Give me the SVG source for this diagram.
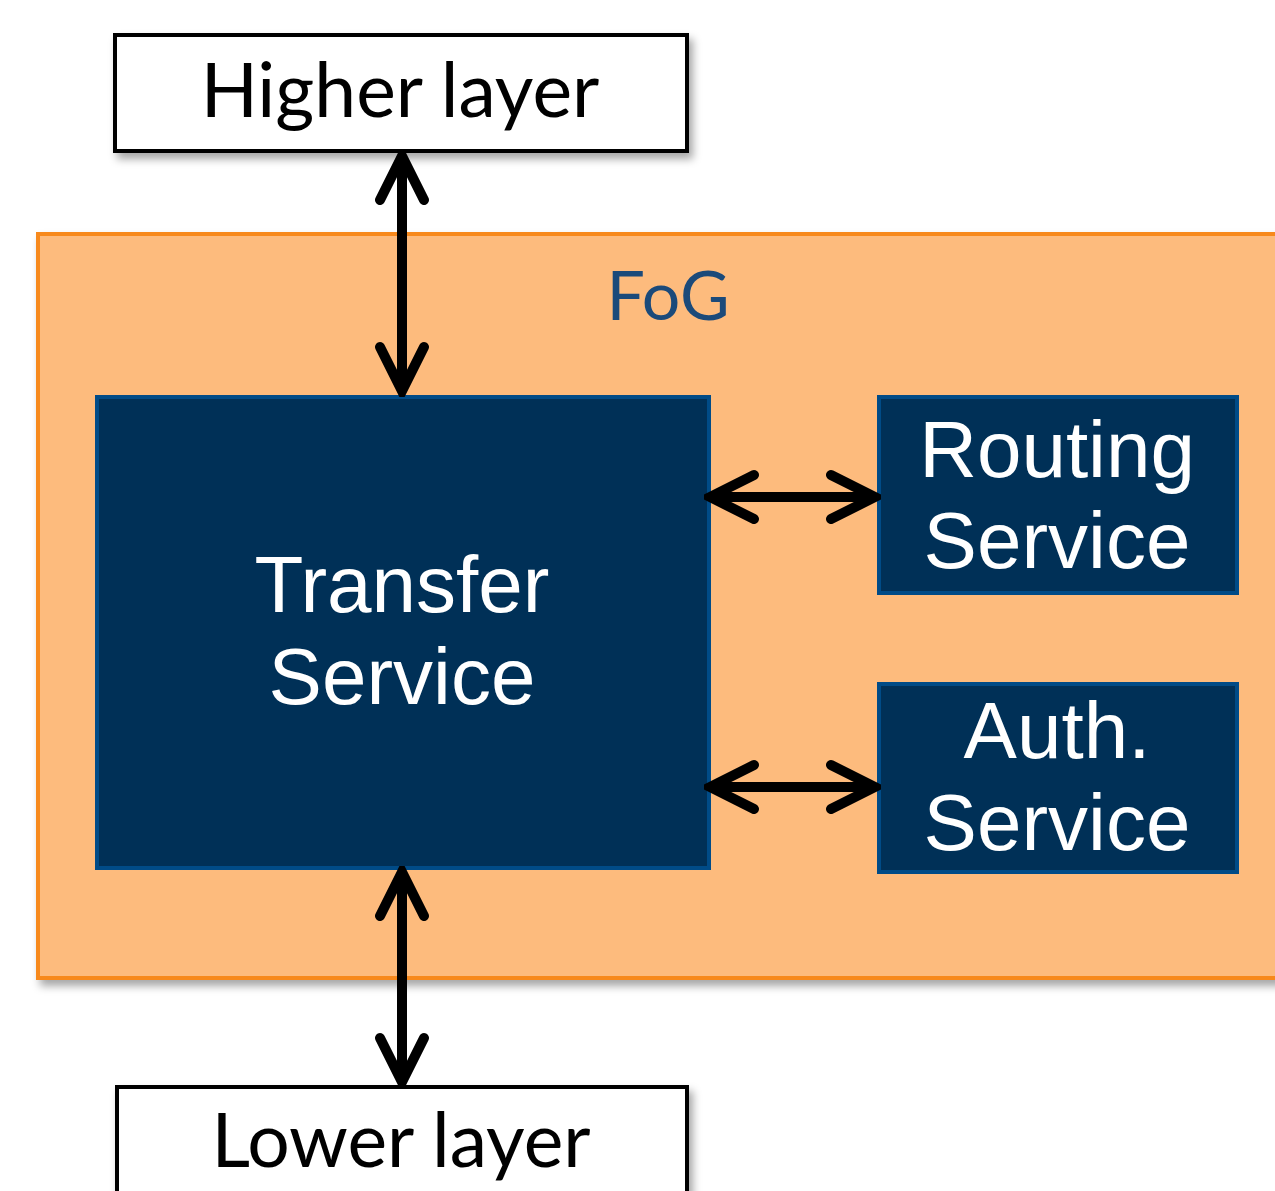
<svg xmlns="http://www.w3.org/2000/svg" width="1275" height="1191" viewBox="0 0 1275 1191">
<defs>
<filter id="sh" x="-10%" y="-10%" width="130%" height="140%">
<feDropShadow dx="4" dy="6" stdDeviation="4" flood-color="#000" flood-opacity="0.35"/>
</filter>
<marker id="ah" viewBox="0 0 60 60" refX="54" refY="30" markerWidth="60" markerHeight="60" markerUnits="userSpaceOnUse" orient="auto-start-reverse">
<path d="M10 8 L54 30 L10 52" fill="none" stroke="#000" stroke-width="10" stroke-linecap="round" stroke-linejoin="miter"/>
</marker>
<style>
.layer{fill:#fff;stroke:#000;stroke-width:4}
.ltxt{font-family:Lato,"Open Sans",sans-serif;font-size:75px;fill:#000;text-anchor:middle}
.svc{fill:#003057;stroke:#004B87;stroke-width:4}
.stxt{font-family:"Liberation Sans",Arial,sans-serif;font-size:80px;fill:#fff;text-anchor:middle}
.conn{stroke:#000;stroke-width:10;fill:none;marker-start:url(#ah);marker-end:url(#ah)}
</style>
</defs>
<rect width="1275" height="1191" fill="#fff"/>
<g id="fog">
<rect x="38" y="234" width="1250" height="744" fill="#FDBB7D" stroke="#F7891F" stroke-width="4" filter="url(#sh)"/>
<text x="668" y="320" font-family="Lato,'Open Sans',sans-serif" font-size="68" fill="#1B4A7A" text-anchor="middle">FoG</text>
</g>
<g id="higher-layer">
<rect class="layer" x="115" y="35" width="572" height="116" filter="url(#sh)"/>
<text class="ltxt" x="400" y="117">Higher layer</text>
</g>
<g id="lower-layer">
<rect class="layer" x="117" y="1087" width="570" height="130" filter="url(#sh)"/>
<text class="ltxt" x="401" y="1167">Lower layer</text>
</g>
<g id="transfer-service">
<rect class="svc" x="97" y="397" width="612" height="471"/>
<text class="stxt" x="402" y="612">Transfer</text>
<text class="stxt" x="402" y="704">Service</text>
</g>
<g id="routing-service">
<rect class="svc" x="879" y="397" width="358" height="196"/>
<text class="stxt" x="1057" y="477">Routing</text>
<text class="stxt" x="1057" y="568">Service</text>
</g>
<g id="auth-service">
<rect class="svc" x="879" y="684" width="358" height="188"/>
<text class="stxt" x="1057" y="758">Auth.</text>
<text class="stxt" x="1057" y="850">Service</text>
</g>
<g id="connectors">
<line class="conn" x1="402" y1="156" x2="402" y2="391"/>
<line class="conn" x1="402" y1="872" x2="402" y2="1082"/>
<line class="conn" x1="710" y1="497" x2="875" y2="497"/>
<line class="conn" x1="710" y1="787" x2="875" y2="787"/>
</g>
</svg>
